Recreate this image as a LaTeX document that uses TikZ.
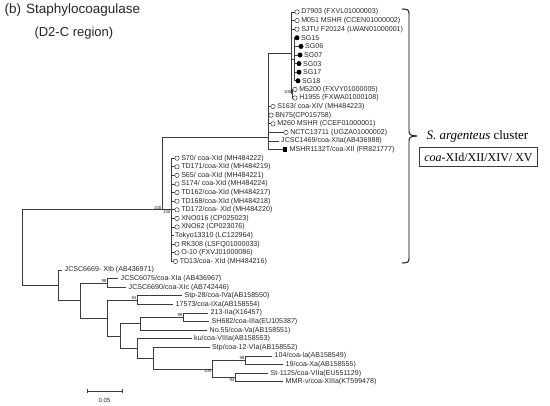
\documentclass[tikz,border=0pt]{standalone}
\usepackage{fontspec}
\setmainfont{Liberation Serif}
\newfontfamily\arialfont{Liberation Sans}
\usetikzlibrary{positioning}

\definecolor{treegray}{HTML}{3C3C3C}
\definecolor{labgray}{HTML}{262626}
\newcommand\lfont{\arialfont\fontsize{7.1}{8}\selectfont}
\newcommand\bfont{\arialfont\fontsize{4.4}{5}\selectfont}

\begin{document}
\begin{tikzpicture}[x=1pt,y=-1pt,
  br/.style={draw=treegray,line width=0.75pt},
  lab/.style={font=\lfont,text=labgray,inner sep=0pt,anchor=west},
  opn/.style={circle,draw=treegray,line width=0.5pt,inner sep=0pt,minimum size=4.4pt},
  ful/.style={opn,fill=black,draw=black},
  sqr/.style={rectangle,fill=black,inner sep=0pt,minimum size=4.4pt},
  bsv/.style={font=\bfont,text=labgray,inner sep=0.4pt}]
\useasboundingbox (0,0) rectangle (550,406);

% heading
\node[anchor=west,font=\arialfont\fontsize{13.5}{15}\selectfont,text=labgray] (ttl) at (1,10) {(b)\hspace{5pt}Staphylocoagulase};
\node[anchor=west,font=\arialfont\fontsize{13}{15}\selectfont,text=labgray] (reg) at (31,33) {(D2-C region)};

% internal nodes
\coordinate (nR) at (22,247.5);
\coordinate (nA) at (162,209.8);
\coordinate (nXId) at (171,209.8);
\coordinate (nX) at (268,137);
\coordinate (nZ) at (291,52.9);
\coordinate (nSG) at (294,59.3);
\coordinate (nMH) at (292,93.7);
\coordinate (nB) at (58,285.3);
\coordinate (nD) at (80,300.5);
\coordinate (nC) at (107,282.9);
\coordinate (nU) at (107,318.1);
\coordinate (nG) at (137,300.1);
\coordinate (nQ) at (120,336.1);
\coordinate (nT) at (140,323.8);
\coordinate (nH) at (183,317.3);
\coordinate (nP) at (137,348.5);
\coordinate (nN) at (153,358.2);
\coordinate (nM) at (212,368.9);
\coordinate (nK) at (245,360.3);
\coordinate (nL) at (235,377.5);

\draw[br] (nR) |- (nA);
\draw[br] (nA) |- (nX);
\draw[br] (nA) -- (nXId);
\draw[br] (nX) |- (nZ);
\draw[br] (nZ) |- (nSG);
\draw[br] (nZ) |- (nMH);
\draw[br] (nR) |- (nB);
\draw[br] (nB) |- (nD);
\draw[br] (nD) |- (nC);
\draw[br] (nD) |- (nU);
\draw[br] (nU) |- (nG);
\draw[br] (nU) |- (nQ);
\draw[br] (nQ) |- (nT);
\draw[br] (nQ) |- (nP);
\draw[br] (nT) |- (nH);
\draw[br] (nP) |- (nN);
\draw[br] (nN) |- (nM);
\draw[br] (nM) |- (nK);
\draw[br] (nM) |- (nL);

% bootstrap values
\path (nA) node[bsv,above left] {100};
\path (nXId) node[bsv,below left] {100};
\path (nMH) node[bsv,above left] {100};
\path (nC) node[bsv,above left] {98};
\path (nG) node[bsv,above left] {94};
\path (nH) node[bsv,above left] {99};
\path (nK) node[bsv,above left] {99};
\path (nM) node[bsv,below left] {100};
\path (nL) node[bsv,below left] {94};

% S. argenteus, upper group
\foreach \t [count=\i from 0] in {D7903 (FXVL01000003), M051 MSHR (CCEN01000002), SJTU F20124 (LWAN01000001)}{
  \node[opn] (u\i) at (297,{12+8.6*\i}) {};
  \node[lab,right=1.6pt of u\i] {\t};
  \draw[br] (nZ) |- (u\i.west);
}
\foreach \s/\xx [count=\i from 3] in {SG15/297,SG06/301,SG07/300,SG03/299,SG17/299,SG18/298}{
  \node[ful] (sg\i) at (\xx,{12+8.6*\i}) {};
  \node[lab,right=1.4pt of sg\i] {\s};
  \draw[br] (nSG) |- (sg\i.west);
}
\foreach \t [count=\i from 9] in {M5200 (FXVY01000005), H1955 (FXWA01000108)}{
  \node[opn] (u\i) at (295,{12+8.6*\i}) {};
  \node[lab,right=1.6pt of u\i] {\t};
  \draw[br] (nMH) |- (u\i.west);
}
\node[opn] (s163) at (273,106.6) {};
\node[lab,right=1.6pt of s163] {S163/ coa-XIV (MH484223)};
\node[opn] (bn75) at (271,115.2) {};
\node[lab,right=1.6pt of bn75] {BN75(CP015758)};
\node[opn] (m260) at (273,123.8) {};
\node[lab,right=1.6pt of m260] {M260 MSHR (CCEF01000001)};
\node[opn] (nctc) at (286,132.4) {};
\node[lab,right=1.6pt of nctc] {NCTC13711 (UGZA01000002)};
\node[lab] (j1469) at (281,141) {JCSC1469/coa-XIIa(AB436988)};
\node[sqr] (mshr) at (285,149.6) {};
\node[lab,right=2pt of mshr] {MSHR1132T/coa-XII (FR821777)};
\foreach \e in {s163,bn75,m260,nctc,mshr}
  \draw[br] (nX) |- (\e.west);
\draw[br] (nX) |- ([xshift=-2pt]j1469.west);

% S. argenteus, coa-XId group
\foreach \t [count=\i from 17] in {S70/ coa-XId (MH484222), TD171/coa-XId (MH484219), S65/ coa-XId (MH484221), S174/ coa-XId (MH484224), TD162/coa-XId (MH484217), TD168/coa-XId (MH484218), TD172/coa- XId (MH484220), XNO016 (CP025023), XNO62 (CP023076)}{
  \node[opn] (x\i) at (177,{12+8.6*\i}) {};
  \node[lab,right=1.6pt of x\i] {\t};
  \draw[br] (nXId) |- (x\i.west);
}
\node[lab] (tok) at (175,235.6) {Tokyo13310 (LC122964)};
\draw[br] (nXId) |- ([xshift=-1pt]tok.west);
\foreach \t [count=\i from 27] in {RK308 (LSFQ01000033), O-10 (FXVJ01000086)}{
  \node[opn] (x\i) at (177,{12+8.6*\i}) {};
  \node[lab,right=1.6pt of x\i] {\t};
  \draw[br] (nXId) |- (x\i.west);
}
\node[opn] (x29) at (175.5,261.4) {};
\node[lab,right=1.6pt of x29] {TD13/coa- XId (MH484216)};
\draw[br] (nXId) |- (x29.west);

% S. aureus and others
\node[lab] (j6669) at (64.5,270) {JCSC6669- XIb (AB436971)};
\node[lab] (j6075) at (120.5,278.6) {JCSC6075/coa-XIa (AB436967)};
\node[lab] (j6690) at (128.5,287.2) {JCSC6690/coa-XIc (AB742446)};
\node[lab] (stp28) at (184.5,295.8) {Stp-28/coa-IVa(AB158550)};
\node[lab] (c17573) at (175.5,304.4) {17573/coa-IXa(AB158554)};
\node[lab] (c213) at (210.5,313) {213-IIa(X16457)};
\node[lab] (sh682) at (211.5,321.6) {SH682/coa-IIIa(EU105387)};
\node[lab] (no55) at (209.5,330.2) {No.55/coa-Va(AB158551)};
\node[lab] (ku) at (194,338.8) {ku/coa-VIIIa(AB158553)};
\node[lab] (stp12) at (212,347.4) {Stp/coa-12-VIa(AB158552)};
\node[lab] (c104) at (274.5,356) {104/coa-Ia(AB158549)};
\node[lab] (c19) at (285.5,364.6) {19/coa-Xa(AB158555)};
\node[lab] (st1125) at (270.5,373.2) {St-1125/coa-VIIa(EU551129)};
\node[lab] (mmr) at (285.5,381.8) {MMR-v/coa-XIIIa(KT599478)};
\draw[br] (nB) |- ([xshift=-2.5pt]j6669.west);
\draw[br] (nC) |- ([xshift=-2.5pt]j6075.west);
\draw[br] (nC) |- ([xshift=-2.5pt]j6690.west);
\draw[br] (nG) |- ([xshift=-2.5pt]stp28.west);
\draw[br] (nG) |- ([xshift=-2.5pt]c17573.west);
\draw[br] (nH) |- ([xshift=-2.5pt]c213.west);
\draw[br] (nH) |- ([xshift=-2.5pt]sh682.west);
\draw[br] (nT) |- ([xshift=-2.5pt]no55.west);
\draw[br] (nP) |- ([xshift=-2.5pt]ku.west);
\draw[br] (nN) |- ([xshift=-2.5pt]stp12.west);
\draw[br] (nK) |- ([xshift=-2.5pt]c104.west);
\draw[br] (nK) |- ([xshift=-2.5pt]c19.west);
\draw[br] (nL) |- ([xshift=-2.5pt]st1125.west);
\draw[br] (nL) |- ([xshift=-2.5pt]mmr.west);

% cluster brace and labels
\draw[line width=0.9pt] (402,9) .. controls (408,9) and (409,10) .. (409,14) -- (409,131)
  .. controls (409,134) and (410,136) .. (417,136);
\draw[line width=0.9pt] (417,136) .. controls (410,136) and (409,138) .. (409,141) -- (409,258)
  .. controls (409,262) and (408,263) .. (402,263);
\node[anchor=west,font=\fontsize{13}{15}\selectfont] (clu) at (423,136) {\textit{S. argenteus} cluster};
\node[draw=treegray,line width=0.7pt,font=\fontsize{12}{14}\selectfont,minimum width=118pt,minimum height=19pt,inner sep=0pt] (typ) at (478.5,157) {\textit{coa}-XId/XII/XIV/ XV};

% scale bar
\coordinate (sb1) at (87,391);
\coordinate (sb2) at (122,391);
\draw[br] (sb1) -- (sb2);
\draw[br] ([yshift=2.2pt]sb1) -- ([yshift=-2.2pt]sb1);
\draw[br] ([yshift=2.2pt]sb2) -- ([yshift=-2.2pt]sb2);
\node[font=\arialfont\fontsize{6}{7}\selectfont,text=labgray] (sbl) at (104.5,400) {0.05};
\end{tikzpicture}
\end{document}
